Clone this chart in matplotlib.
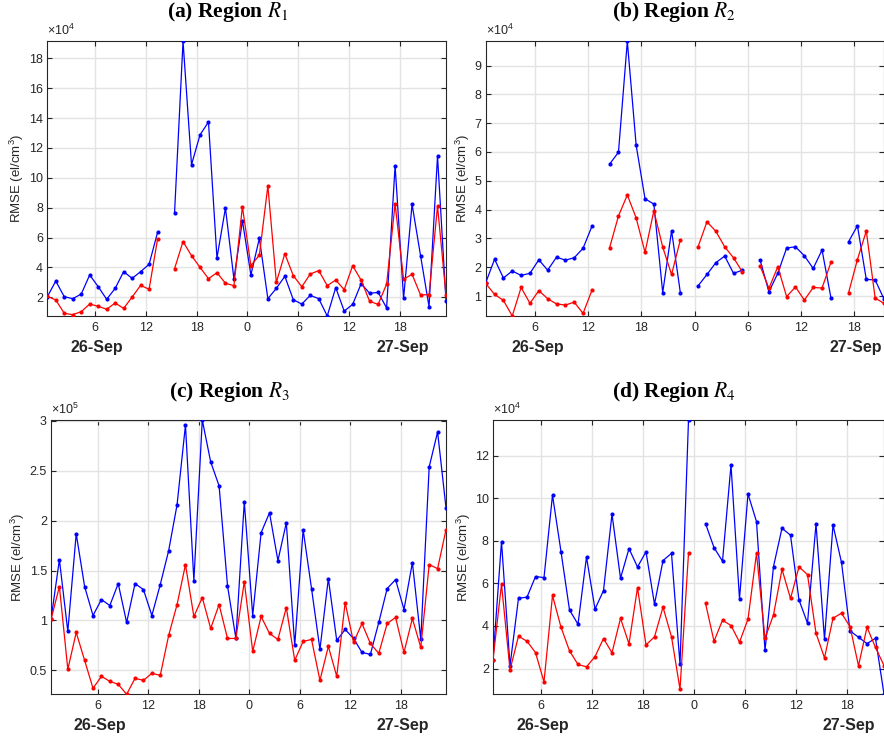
import numpy as np
import matplotlib
matplotlib.use("Agg")
import matplotlib.pyplot as plt

plt.rcParams["font.family"] = ["Liberation Sans", "DejaVu Sans"]
plt.rcParams["mathtext.fontset"] = "custom"
plt.rcParams["mathtext.rm"] = "Liberation Sans"
plt.rcParams["mathtext.it"] = "Liberation Sans:italic"
plt.rcParams["mathtext.bf"] = "Liberation Sans:bold"

nan = np.nan

# hourly samples starting shortly after 26-Sep 00:00 (hours since 26-Sep 00:00)
t_start = 0.4

# ---- Region R1 (x1e4 el/cm^3) ----
r1_blue = [2.04, 3.09, 2.04, 1.91, 2.22, 3.50, 2.71, 1.87, 2.60, 3.72, 3.27, 3.72,
           4.21, 6.35, nan, 7.65, 19.14, 10.88, 12.87, 13.74, 4.63, 7.98, 3.23, 7.13,
           3.50, 5.95, 1.91, 2.60, 3.41, 1.84, 1.55, 2.13, 1.91, 0.75, 2.65, 1.08,
           1.53, 2.92, 2.27, 2.33, 1.29, 10.82, 1.93, 8.23, 4.79, 1.38, 11.46, 1.75]
r1_red = [2.07, 1.82, 0.93, 0.84, 1.04, 1.55, 1.40, 1.20, 1.62, 1.26, 2.02, 2.80,
          2.54, 5.91, nan, 3.92, 5.73, 4.79, 4.01, 3.25, 3.65, 2.94, 2.78, 8.07,
          4.12, 4.83, 9.46, 3.00, 4.92, 3.45, 2.71, 3.56, 3.79, 2.78, 3.16, 2.51,
          4.12, 3.14, 1.73, 1.53, 2.89, 8.27, 3.21, 3.54, 2.16, 2.18, 8.12, 2.15]

# ---- Region R2 (x1e4 el/cm^3) ----
r2_blue = [1.46, 2.28, 1.63, 1.87, 1.72, 1.79, 2.26, 1.90, 2.35, 2.25, 2.33, 2.66,
           3.42, nan, 5.58, 5.99, 9.84, 6.23, 4.38, 4.19, 1.12, 3.27, 1.10, nan,
           1.36, 1.75, 2.16, 2.39, 1.79, 1.90, nan, 2.25, 1.15, 1.79, 2.67, 2.71,
           2.40, 1.96, 2.60, 0.95, nan, 2.89, 3.44, 1.58, 1.56, 0.90]
r2_red = [1.44, 1.06, 0.85, 0.31, 1.30, 0.75, 1.19, 0.91, 0.73, 0.69, 0.79, 0.40,
          1.20, nan, 2.68, 3.78, 4.51, 3.71, 2.52, 3.96, 2.70, 1.75, 2.96, nan,
          2.72, 3.58, 3.25, 2.71, 2.33, 1.84, nan, 2.05, 1.27, 2.02, 0.98, 1.32,
          0.86, 1.30, 1.28, 2.17, nan, 1.12, 2.27, 3.26, 0.93, 0.75]

# ---- Region R3 (x1e5 el/cm^3) ----
r3_blue = [1.01, 1.61, 0.89, 1.87, 1.34, 1.05, 1.21, 1.15, 1.37, 0.98, 1.37, 1.31,
           1.05, 1.36, 1.70, 2.16, 2.96, 1.40, 3.01, 2.59, 2.35, 1.35, 0.82, 2.19,
           1.05, 1.88, 2.08, 1.60, 1.98, 0.75, 1.91, 1.32, 0.71, 1.42, 0.80, 0.91,
           0.82, 0.68, 0.66, 0.98, 1.32, 1.41, 1.11, 1.58, 0.81, 2.54, 2.89, 2.13]
r3_red = [1.01, 1.34, 0.51, 0.88, 0.60, 0.32, 0.44, 0.39, 0.36, 0.26, 0.42, 0.40,
          0.47, 0.45, 0.85, 1.16, 1.56, 1.04, 1.23, 0.92, 1.16, 0.82, 0.82, 1.39,
          0.69, 1.04, 0.87, 0.81, 1.13, 0.60, 0.79, 0.81, 0.40, 0.74, 0.44, 1.18,
          0.78, 0.97, 0.77, 0.67, 0.97, 1.03, 0.68, 1.02, 0.73, 1.56, 1.52, 1.91]

# ---- Region R4 (x1e4 el/cm^3) ----
r4_blue = [2.41, 7.96, 2.13, 5.30, 5.35, 6.32, 6.27, 10.14, 7.49, 4.75, 4.08, 7.24,
           4.79, 5.66, 9.25, 6.24, 7.63, 6.77, 7.48, 5.02, 7.07, 7.41, 2.19, 13.67,
           nan, 8.81, 7.68, 7.04, 11.56, 5.27, 10.20, 8.90, 2.85, 6.79, 8.59, 8.26,
           5.22, 4.13, 8.79, 3.38, 8.74, 6.98, 3.77, 3.47, 3.17, 3.42, 0.79]
r4_red = [2.41, 5.96, 1.94, 3.52, 3.28, 2.75, 1.37, 5.43, 3.94, 2.83, 2.19, 2.08,
          2.56, 3.41, 2.74, 4.36, 3.16, 5.80, 3.11, 3.49, 4.88, 3.49, 1.03, 7.41,
          nan, 5.07, 3.28, 4.27, 4.02, 3.24, 4.32, 7.41, 3.42, 4.52, 6.66, 5.29,
          6.77, 6.41, 3.66, 2.50, 4.36, 4.60, 3.97, 2.13, 3.94, 2.99, 2.14]

panel_titles = ["(a) Region $R_1$", "(b) Region $R_2$",
                "(c) Region $R_3$", "(d) Region $R_4$"]
scale_exponents = [4, 4, 5, 4]
y_ticks = [np.arange(2, 19, 2), np.arange(1, 10, 1),
           np.arange(0.5, 3.01, 0.5), np.arange(2, 13, 2)]
y_tick_labels = [[f"{v:g}" for v in ticks] for ticks in y_ticks]
x_tick_hours = [6, 12, 18, 24, 30, 36, 42]
x_tick_labels = ["6", "12", "18", "0", "6", "12", "18"]
date_hours = [6, 42]
date_labels = ["26-Sep", "27-Sep"]
series = [(r1_blue, r1_red), (r2_blue, r2_red), (r3_blue, r3_red), (r4_blue, r4_red)]

W, H = 884, 740
fig = plt.figure(figsize=(W / 100, H / 100), dpi=100)

# axes rectangles in pixels: left, top, right, bottom
rects_px = [(47.3, 41.3, 446.0, 316.0),
            (485.7, 41.3, 884.0, 316.0),
            (51.0, 420.0, 446.0, 694.3),
            (493.0, 420.0, 884.0, 694.3)]
ylabel_x = [-0.053, -0.034, -0.062, -0.051]
title_pos = [(228, 16.7), (674, 16.7), (229, 396.5), (674, 396.5)]

axis_col = "#262626"

for i, (blue, red) in enumerate(series):
    l, tp, r, b = rects_px[i]
    ax = fig.add_axes([l / W, 1 - b / H, (r - l) / W, (b - tp) / H])
    blue = np.asarray(blue, float)
    red = np.asarray(red, float)
    t = t_start + np.arange(len(blue))

    ax.plot(t, blue, color=(0, 0, 1), lw=0.9, marker="o", ms=3.0, mew=0, zorder=3)
    ax.plot(t, red, color=(1, 0, 0), lw=0.9, marker="o", ms=3.0, mew=0, zorder=4)

    ax.set_xlim(t[0], t[-1])
    allv = np.concatenate([blue, red])
    ax.set_ylim(np.nanmin(allv), np.nanmax(allv))

    ax.set_xticks(x_tick_hours)
    ax.set_xticklabels(x_tick_labels)
    ax.set_yticks(y_ticks[i])
    ax.set_yticklabels(y_tick_labels[i])

    ax.grid(True, color="#e3e3e3", lw=1.0, zorder=0)
    ax.set_axisbelow(True)
    for s in ax.spines.values():
        s.set_color(axis_col)
        s.set_linewidth(0.8)
    ax.tick_params(direction="in", length=3.5, width=0.8, color=axis_col,
                   labelcolor=axis_col, labelsize=9, top=True, right=True)
    ax.tick_params(axis="x", pad=4)
    ax.tick_params(axis="y", pad=3)

    ax.set_ylabel("RMSE (el/cm$^3$)", fontsize=9.5, color=axis_col)
    ax.yaxis.set_label_coords(ylabel_x[i], 0.5)

    ax.annotate(rf"$\times10^{{{scale_exponents[i]}}}$", xy=(0, 1),
                xycoords="axes fraction", xytext=(0, 2.5), textcoords="offset points",
                ha="left", va="bottom", fontsize=9, color=axis_col)

    for h, lab in zip(date_hours, date_labels):
        ax.annotate(lab, xy=(h, 0), xycoords=("data", "axes fraction"),
                    xytext=(1.5, -22.5), textcoords="offset points",
                    ha="center", va="center", fontsize=11.5, fontweight="bold",
                    color=axis_col)

    tx, ty = title_pos[i]
    fig.text(tx / W, 1 - ty / H, panel_titles[i], ha="center", va="baseline",
             fontsize=15.5, fontweight="bold", family="Liberation Serif",
             math_fontfamily="stix", color="black")

fig.savefig("out.png", dpi=100)
